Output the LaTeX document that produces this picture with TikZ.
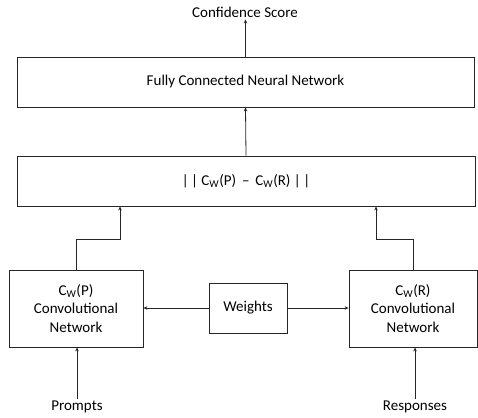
\documentclass[tikz,border=0pt]{standalone}
\usepackage{fontspec}
\setmainfont{Carlito}
\usetikzlibrary{arrows.meta}
\begin{document}
\begin{tikzpicture}[x=1pt,y=-1pt,
  box/.style={draw=black!85, line width=0.8pt, inner sep=0pt, align=center, font=\fontsize{15}{18.5}\selectfont},
  lbl/.style={inner sep=2pt, font=\fontsize{15}{18}\selectfont},
  arr/.style={draw=black!85, line width=0.8pt, -{Stealth[length=4pt,width=3.5pt]}}]
\useasboundingbox (0,0) rectangle (478,417);
\node[lbl] (conf) at (245,12) {Confidence Score};
\node[box, minimum width=457pt, minimum height=50pt] (fcnn) at (245.5,82) {Fully Connected Neural Network};
\node[box, minimum width=458pt, minimum height=50pt] (norm) at (246,181) {|\,| C\textsubscript{W}(P) \,–\, C\textsubscript{W}(R) |\,|};
\node[box, minimum width=134pt, minimum height=77pt] (lconv) at (76,308.5) {C\textsubscript{W}(P)\\Convolutional\\Network};
\node[box, minimum width=128pt, minimum height=77pt] (rconv) at (413,308.5) {C\textsubscript{W}(R)\\Convolutional\\Network};
\node[box, minimum width=78pt, minimum height=50pt] (w) at (248,308) {Weights};
\node[lbl] (prompts) at (77,407) {Prompts};
\node[lbl] (resp) at (415,407) {Responses};
\coordinate (lbend) at (120,239);
\coordinate (rbend) at (376,239);
\draw[arr] (fcnn.north) -- (fcnn.north |- conf.south);
\draw[arr] (norm.north) -- (fcnn.south);
\draw[arr] (lconv.north) |- (lbend) -- (lbend |- norm.south);
\draw[arr] (rconv.north) |- (rbend) -- (rbend |- norm.south);
\draw[arr] (w.west) -- (w.west -| lconv.east);
\draw[arr] (w.east) -- (w.east -| rconv.west);
\draw[arr] (prompts.north) -- (prompts.north |- lconv.south);
\draw[arr] (resp.north) -- (resp.north |- rconv.south);
\end{tikzpicture}
\end{document}
